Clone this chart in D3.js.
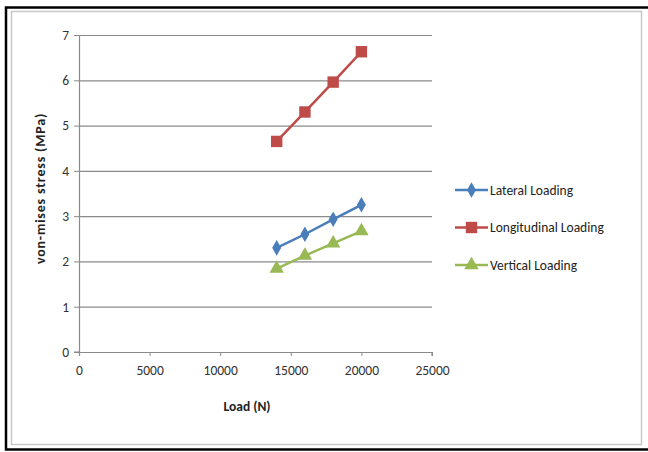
<!DOCTYPE html>
<html>
<head>
<meta charset="utf-8">
<script src="https://cdn.jsdelivr.net/npm/d3@7"></script>
<style>
  body { margin: 0; background: #fff; }
  svg text { font-family: Carlito, Lato, "Liberation Sans", sans-serif; }
</style>
</head>
<body>
<svg width="648" height="452"></svg>
<script>
const loads = [ 14000, 16000, 18000, 20000 ];
const lateral = [ 2.30, 2.60, 2.93, 3.25 ];
const longitudinal = [ 4.65, 5.30, 5.96, 6.63 ];
const vertical = [ 1.84, 2.13, 2.40, 2.67 ];
const seriesNames = [ 'Lateral Loading', 'Longitudinal Loading', 'Vertical Loading' ];
const xTicks = [ 0, 5000, 10000, 15000, 20000, 25000 ];
const yTicks = [ 0, 1, 2, 3, 4, 5, 6, 7 ];

const series = [
    { name: seriesNames[ 0 ], values: lateral, color: '#4a7ebb', symbol: d3.symbolDiamond, size: 70 },
    { name: seriesNames[ 1 ], values: longitudinal, color: '#be4b48', symbol: d3.symbolSquare, size: 130 },
    { name: seriesNames[ 2 ], values: vertical, color: '#98b954', symbol: d3.symbolTriangle, size: 90 }
];

const svg = d3.select( 'svg' );

// frame
svg.append( 'rect' ).attr( 'x', 6 ).attr( 'y', 7.5 ).attr( 'width', 650 ).attr( 'height', 442 )
    .attr( 'fill', 'none' ).attr( 'stroke', '#000' ).attr( 'stroke-width', 2.5 );
svg.append( 'rect' ).attr( 'x', 11.5 ).attr( 'y', 11.5 ).attr( 'width', 630 ).attr( 'height', 433 )
    .attr( 'fill', 'none' ).attr( 'stroke', '#c8c8c8' ).attr( 'stroke-width', 1.5 );

const margin = { left: 79, top: 35, right: 216, bottom: 100 };
const width = 432 - margin.left;
const height = 352 - margin.top;

const g = svg.append( 'g' ).attr( 'transform', `translate(${margin.left},${margin.top})` );

const xScale = d3.scaleLinear().domain( [ 0, 25000 ] ).range( [ 0, width ] );
const yScale = d3.scaleLinear().domain( [ 0, 7 ] ).range( [ height, 0 ] );

// gridlines
g.append( 'g' ).selectAll( 'line' ).data( yTicks.slice( 1 ) )
    .enter().append( 'line' )
    .attr( 'x1', 0 ).attr( 'x2', width )
    .attr( 'y1', d => yScale( d ) + 0.5 ).attr( 'y2', d => yScale( d ) + 0.5 )
    .attr( 'stroke', '#8a8a8a' ).attr( 'stroke-width', 1.2 );

const yAxis = d3.axisLeft( yScale ).tickValues( yTicks ).tickFormat( d3.format( 'd' ) )
    .tickSize( 5 ).tickPadding( 5 );
const xAxis = d3.axisBottom( xScale ).tickValues( xTicks ).tickFormat( d3.format( 'd' ) )
    .tickSize( 4 ).tickPadding( 9 );

const yAxisGroup = g.append( 'g' ).call( yAxis );
const xAxisGroup = g.append( 'g' ).attr( 'transform', `translate(0,${height})` ).call( xAxis );

[ yAxisGroup, xAxisGroup ].forEach( ax => {
    ax.select( '.domain' ).attr( 'stroke', '#8a8a8a' ).attr( 'stroke-width', 1.2 );
    ax.selectAll( '.tick line' ).attr( 'stroke', '#8a8a8a' );
    ax.selectAll( '.tick text' ).attr( 'fill', '#333' ).style( 'font-size', '13.5px' );
} );
yAxisGroup.select( '.domain' ).attr( 'd', `M-5,${height}H0.5V0.5H-5` );
xAxisGroup.select( '.domain' ).attr( 'd', `M0.5,4V0.5H${width}V4` );

// axis titles
g.append( 'text' )
    .attr( 'transform', `translate(-34,${height / 2 - 5}) rotate(-90)` )
    .attr( 'text-anchor', 'middle' )
    .style( 'font-size', '14px' ).style( 'font-weight', 'bold' ).style( 'letter-spacing', '0.8px' )
    .attr( 'fill', '#222' )
    .text( 'von-mises stress (MPa)' );

g.append( 'text' )
    .attr( 'x', xScale( 11900 ) ).attr( 'y', height + 59 )
    .attr( 'text-anchor', 'middle' )
    .style( 'font-size', '13.5px' ).style( 'font-weight', 'bold' ).attr( 'fill', '#222' )
    .text( 'Load (N)' );

// series
const line = d3.line().x( d => xScale( d[ 0 ] ) ).y( d => yScale( d[ 1 ] ) );
series.forEach( s => {
    const pts = loads.map( ( l, i ) => [ l, s.values[ i ] ] );
    g.append( 'path' ).datum( pts ).attr( 'd', line )
        .attr( 'fill', 'none' ).attr( 'stroke', s.color ).attr( 'stroke-width', 2.5 );
    g.selectAll( null ).data( pts ).enter().append( 'path' )
        .attr( 'd', d3.symbol( s.symbol, s.size ) )
        .attr( 'transform', d => `translate(${xScale( d[ 0 ] )},${yScale( d[ 1 ] )})` )
        .attr( 'fill', s.color );
} );

// legend
const legend = svg.append( 'g' ).attr( 'transform', 'translate(455,190)' );
series.forEach( ( s, i ) => {
    const row = legend.append( 'g' ).attr( 'transform', `translate(0,${i * 37.5})` );
    row.append( 'line' ).attr( 'x1', 0 ).attr( 'x2', 33 ).attr( 'y1', 0 ).attr( 'y2', 0 )
        .attr( 'stroke', s.color ).attr( 'stroke-width', 2.5 );
    row.append( 'path' ).attr( 'd', d3.symbol( s.symbol, s.size ) )
        .attr( 'transform', 'translate(16.5,0)' ).attr( 'fill', s.color );
    row.append( 'text' ).attr( 'x', 35 ).attr( 'y', 4.5 )
        .style( 'font-size', '13.5px' ).attr( 'fill', '#222' )
        .text( s.name );
} );
</script>
</body>
</html>
